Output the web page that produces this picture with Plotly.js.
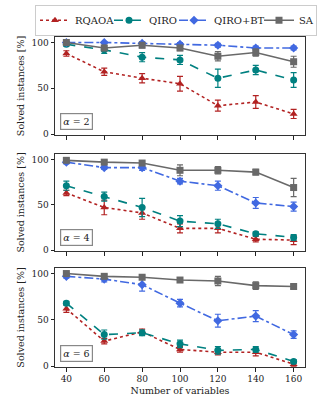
<!DOCTYPE html>
<html><head><meta charset="utf-8">
<script src="https://cdn.plot.ly/plotly-3.0.1.min.js"></script>
<style>html,body{margin:0;padding:0;background:#fff}#plot{width:318px;height:415px}</style>
</head><body><div id="plot"></div>
<script>
const variables = [40, 60, 80, 100, 120, 140, 160];
const alphaLabels = ['2', '4', '6'];
const methods = ['RQAOA', 'QIRO', 'QIRO+BT', 'SA'];

// alpha = 2
const rqaoa_a2 = [88, 68, 61, 55, 31, 35, 22];
const rqaoa_a2_err = [3, 4, 5, 8, 6, 7, 5];
const qiro_a2 = [98, 92, 84, 81, 61, 70, 59];
const qiro_a2_err = [2, 4, 5, 5, 10, 5, 8];
const qirobt_a2 = [100, 100, 99, 98, 97, 94, 94];
const qirobt_a2_err = [1, 1, 2, 2, 2, 2, 2];
const sa_a2 = [100, 94, 97, 94, 85, 89, 79];
const sa_a2_err = [1, 3, 3, 3, 5, 4, 6];

// alpha = 4
const rqaoa_a4 = [63, 47, 41, 24, 24, 12, 11];
const rqaoa_a4_err = [3, 8, 7, 5, 5, 3, 5];
const qiro_a4 = [71, 59, 47, 32, 29, 18, 14];
const qiro_a4_err = [5, 5, 10, 6, 5, 2, 3];
const qirobt_a4 = [97, 91, 91, 76, 71, 52, 48];
const qirobt_a4_err = [2, 2, 3, 3, 5, 6, 5];
const sa_a4 = [99, 97, 96, 88, 88, 86, 69];
const sa_a4_err = [2, 2, 2, 6, 4, 3, 10];

// alpha = 6
const rqaoa_a6 = [62, 27, 37, 18, 15, 15, 2];
const rqaoa_a6_err = [4, 3, 3, 3, 3, 4, 2];
const qiro_a6 = [68, 34, 36, 24, 17, 18, 5];
const qiro_a6_err = [2, 5, 3, 4, 4, 3, 2];
const qirobt_a6 = [97, 94, 88, 68, 49, 54, 34];
const qirobt_a6_err = [2, 3, 7, 4, 7, 6, 4];
const sa_a6 = [100, 97, 96, 93, 92, 87, 86];
const sa_a6_err = [1, 2, 2, 2, 5, 4, 2];

const panels = [
  [[rqaoa_a2, rqaoa_a2_err], [qiro_a2, qiro_a2_err], [qirobt_a2, qirobt_a2_err], [sa_a2, sa_a2_err]],
  [[rqaoa_a4, rqaoa_a4_err], [qiro_a4, qiro_a4_err], [qirobt_a4, qirobt_a4_err], [sa_a4, sa_a4_err]],
  [[rqaoa_a6, rqaoa_a6_err], [qiro_a6, qiro_a6_err], [qirobt_a6, qirobt_a6_err], [sa_a6, sa_a6_err]]
];

const styles = [
  {color: '#b22222', dash: 'dot', symbol: 'triangle-up', size: 7, lw: 29},
  {color: '#008080', dash: 'dash', symbol: 'circle', size: 7, lw: 20},
  {color: '#4169e1', dash: 'dashdot', symbol: 'diamond', size: 7, lw: 40},
  {color: '#696969', dash: 'solid', symbol: 'square', size: 7, lw: 12}
];

const FONT = 'DejaVu Serif';
const traces = [];
panels.forEach((panel, p) => {
  const ax = p === 0 ? '' : String(p + 1);
  panel.forEach((ser, m) => {
    const s = styles[m];
    traces.push({
      x: variables, y: ser[0], type: 'scatter', mode: 'lines+markers',
      name: methods[m], legendgroup: methods[m], showlegend: p === 0,
      legendwidth: s.lw,
      xaxis: 'x' + ax, yaxis: 'y' + ax,
      line: {color: s.color, dash: s.dash, width: 1.6},
      marker: {color: s.color, symbol: s.symbol, size: s.size},
      error_y: {type: 'data', array: ser[1], visible: true, color: s.color, thickness: 1.2, width: 3}
    });
  });
});

const doms = [[0.703, 1.0], [0.3515, 0.6455], [0.0, 0.3]];
const layout = {
  width: 318, height: 415,
  margin: {l: 55, r: 13, t: 37, b: 48, autoexpand: false},
  paper_bgcolor: '#fff', plot_bgcolor: '#fff',
  font: {family: FONT, size: 9, color: '#222'},
  showlegend: true,
  legend: {orientation: 'h', x: -0.08, y: 1.004, xanchor: 'left', yanchor: 'bottom',
           bordercolor: '#cccccc', borderwidth: 1, font: {family: FONT, size: 10},
           itemwidth: 30, tracegroupgap: 0, valign: 'middle'},
  annotations: []
};
doms.forEach((d, p) => {
  const ax = p === 0 ? '' : String(p + 1);
  layout['xaxis' + ax] = {
    domain: [0, 1], range: [34, 166], anchor: 'y' + ax,
    tickvals: variables, ticktext: variables.map(String), showticklabels: p === 2,
    ticks: 'outside', ticklen: 3.5, tickwidth: 1, tickcolor: '#222',
    showline: true, mirror: true, linecolor: '#333', linewidth: 1,
    showgrid: false, zeroline: false,
    tickfont: {family: FONT, size: 9},
    title: p === 2 ? {text: 'Number of variables', font: {family: FONT, size: 9.5}, standoff: 4} : {text: ''}
  };
  layout['yaxis' + ax] = {
    domain: d, range: [-1, 106], anchor: 'x' + ax,
    tickvals: [0, 50, 100], ticks: 'outside', ticklen: 3.5, tickwidth: 1, tickcolor: '#222',
    showline: true, mirror: true, linecolor: '#333', linewidth: 1,
    showgrid: false, zeroline: false,
    tickfont: {family: FONT, size: 9},
    title: {text: 'Solved instances [%]', font: {family: FONT, size: 9.5}, standoff: 5}
  };
  layout.annotations.push({
    xref: 'x' + ax + ' domain', yref: 'y' + ax + ' domain', x: 0.018, y: 0.05,
    xanchor: 'left', yanchor: 'bottom', showarrow: false,
    text: '<i>α</i> = ' + alphaLabels[p],
    font: {family: FONT, size: 9.5, color: '#222'},
    bordercolor: '#888', borderwidth: 1.2, borderpad: 2, bgcolor: '#fff'
  });
});

Plotly.newPlot('plot', traces, layout, {staticPlot: true, displayModeBar: false});
</script></body></html>
